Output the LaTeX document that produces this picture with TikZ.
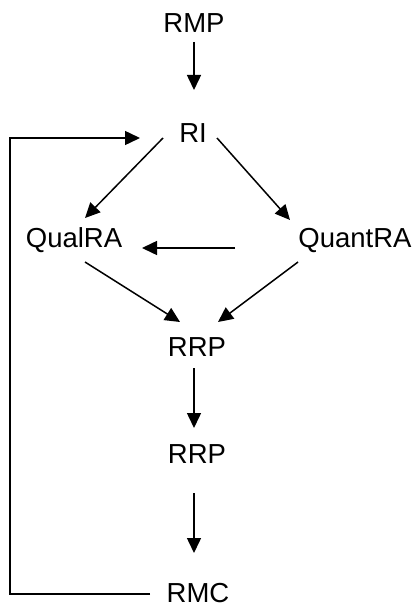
\documentclass[tikz,border=0pt]{standalone}
\usepackage{fontspec}
\setmainfont{Liberation Sans}
\usetikzlibrary{calc,arrows.meta}
\tikzset{
  lbl/.style={anchor=base, inner sep=0pt, font=\fontsize{27.5pt}{33pt}\selectfont},
  arr/.style={line width=1.5pt, -{Triangle[length=15pt,width=14pt]}},
}
\begin{document}
\begin{tikzpicture}[x=1pt,y=-1pt]
  \useasboundingbox (0,0) rectangle (418,607);
  % stages of the process (placed by baseline)
  \node[lbl] (RMP)    at (194,33)  {RMP};
  \node[lbl] (RI)     at (193,142) {RI};
  \node[lbl] (QualRA) at (74,247)  {QualRA};
  \node[lbl] (QuantRA) at (355,247) {QuantRA};
  \node[lbl] (RRPa)   at (197,356) {RRP};
  \node[lbl] (RRPb)   at (197,463) {RRP};
  \node[lbl] (RMC)    at (198,602) {RMC};
  % flow
  \draw[arr] ($(RMP.base)+(0,9)$) -- ($(RI.base)+(1,-52)$);
  \draw[arr] ($(RI.base)+(-30,-4)$) -- ($(QualRA.base)+(11,-29)$);
  \draw[arr] ($(RI.base)+(24,-4)$) -- ($(QuantRA.base)+(-65,-27)$);
  \draw[arr] ($(QuantRA.base)+(-120,1)$) -- ($(QualRA.base)+(68,1)$);
  \draw[arr] ($(QualRA.base)+(11,15)$) -- ($(RRPa.base)+(-17,-34)$);
  \draw[arr] ($(QuantRA.base)+(-57,15)$) -- ($(RRPa.base)+(21,-34)$);
  \draw[arr] ($(RRPa.base)+(-3,12)$) -- ($(RRPb.base)+(-3,-35)$);
  \draw[arr] ($(RRPb.base)+(-3,30)$) -- ($(RMC.base)+(-4,-49)$);
  % feedback loop back to RI
  \draw[arr] ($(RMC.base)+(-48,-8)$) -- ++(-140,0) |- ($(RI.base)+(-53,-4)$);
\end{tikzpicture}
\end{document}
